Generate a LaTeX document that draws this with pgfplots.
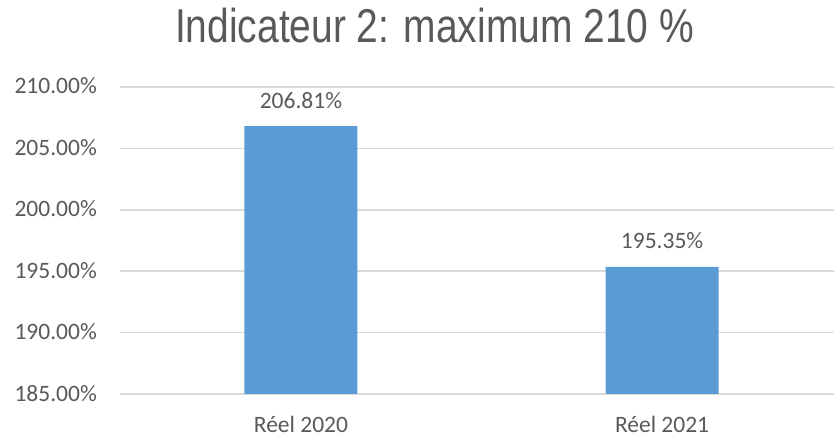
\documentclass[border=0pt]{standalone}
\usepackage{fontspec}
\setmainfont{Carlito}
\newfontfamily\titlefont[FakeStretch=0.82]{Liberation Sans}
\usepackage{pgfplots}
\pgfplotsset{compat=1.18}
\definecolor{txt}{HTML}{595959}
\definecolor{grd}{HTML}{D9D9D9}
\definecolor{bar}{HTML}{5B9BD5}
\begin{document}
\begin{tikzpicture}
\useasboundingbox (0,0) rectangle (834bp,437bp);
\begin{axis}[
  at={(120bp,43bp)}, anchor=south west,
  scale only axis, width=714bp, height=307bp,
  xmin=-0.501, xmax=1.476, ymin=185, ymax=210,
  ytick={185,190,...,210},
  xtick={0,1}, xticklabels={Réel 2020, Réel 2021},
  major tick length=0pt,
  axis line style={draw=none},
  ymajorgrids, grid style={grd, line width=1.5bp},
  /pgf/number format/assume math mode=true,
  ticklabel style={font=\fontsize{23.5bp}{28bp}\selectfont, text=txt, inner sep=0pt},
  yticklabel={\pgfmathprintnumber[fixed,fixed zerofill,precision=2]{\tick}\%},
  yticklabel style={anchor=base east, xshift=-23bp, yshift=-7bp},
  xticklabel style={anchor=base, yshift=-38bp},
  ybar, bar width=113bp,
  nodes near coords={\pgfmathprintnumber[fixed,fixed zerofill,precision=2]{\pgfplotspointmeta}\%},
  nodes near coords style={font=\fontsize{23.5bp}{28bp}\selectfont, text=txt, anchor=base, inner sep=0pt, yshift=18bp},
]
\addplot[fill=bar, draw=none] coordinates {(0,206.81) (1,195.35)};
\end{axis}
\node[anchor=base, inner sep=0pt, text=txt, font=\titlefont\fontsize{47.5bp}{52bp}\selectfont] at (434.5bp,394bp) {Indicateur 2: maximum 210 \%};
\end{tikzpicture}
\end{document}
